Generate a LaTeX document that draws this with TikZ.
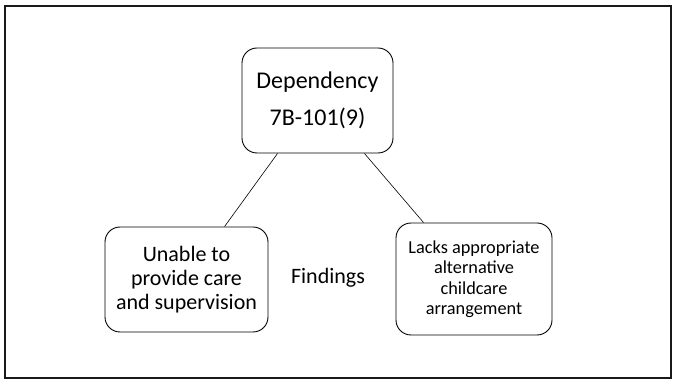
\documentclass[tikz,border=0pt]{standalone}
\usepackage{fontspec}
\setmainfont{Carlito}
\usetikzlibrary{calc}
\begin{document}
\begin{tikzpicture}[x=1pt,y=-1pt,
  box/.style={draw=black, line width=0.9pt, rounded corners=15pt, align=center, inner sep=0pt},
  link/.style={draw=black, line width=0.6pt}]
\useasboundingbox (0,0) rectangle (673,379);
% outer frame
\draw[line width=2pt, black!90] (4.5,6) rectangle (670.5,378);
% boxes
\node[box, minimum width=151pt, minimum height=105pt, font=\fontsize{24}{37}\selectfont]
  (dep) at (317.5,100.5) {Dependency\\7B-101(9)};
\node[box, minimum width=163pt, minimum height=105pt, font=\fontsize{22}{24}\selectfont]
  (care) at (186.5,279.5) {Unable to\\provide care\\and supervision};
\node[box, minimum width=156pt, minimum height=112pt, font=\fontsize{18.3}{20.5}\selectfont]
  (alt) at (474,279) {Lacks appropriate\\alternative\\childcare\\arrangement};
\node[font=\fontsize{22}{24}\selectfont, inner sep=0pt] (find) at (328,278) {Findings};
% connectors
\coordinate (d1) at ($(dep.south west)+(36,0)$);
\coordinate (d2) at ($(dep.south east)+(-29,0)$);
\coordinate (c1) at ($(care.north west)+(120,0)$);
\coordinate (a1) at ($(alt.north west)+(28,0)$);
\draw[link] (d1) -- (c1);
\draw[link] (d2) -- (a1);
\end{tikzpicture}
\end{document}
